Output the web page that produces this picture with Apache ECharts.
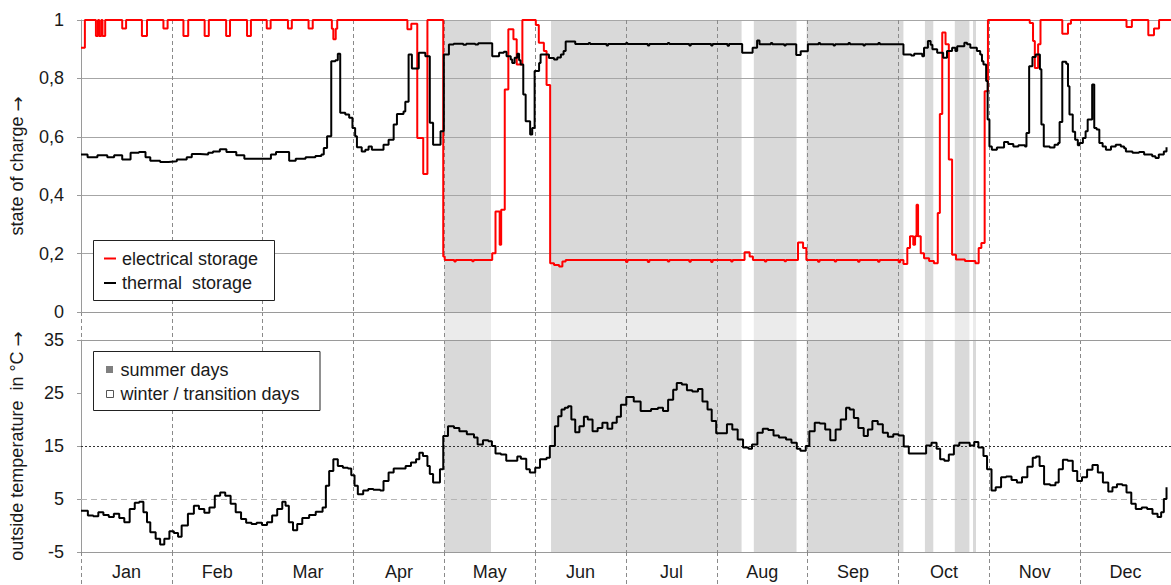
<!DOCTYPE html>
<html><head><meta charset="utf-8">
<script src="https://cdn.jsdelivr.net/npm/echarts@6/dist/echarts.min.js"></script>
<style>html,body{margin:0;padding:0;background:#fff}#c{width:1171px;height:585px}</style>
</head><body><div id="c"></div>
<script>
// ---------- data (x = day of year, 0..365) ----------
const months = ['Jan','Feb','Mar','Apr','May','Jun','Jul','Aug','Sep','Oct','Nov','Dec'];
const socTicks = [0, 0.2, 0.4, 0.6, 0.8, 1];
const tempTicks = [-5, 5, 15, 25, 35];
const summerPeriods = [[121.67,137.3],[157.4,221.2],[225.3,239.6],[243.0,275.4],[282.6,285.4],[292.6,297.5],[298.7,299.7]];

const electrical = [
[0,0.905],[1.3,1.0],[5.0,0.945],[5.7,1.0],[6.1,0.945],[6.8,1.0],[7.2,0.945],[8.1,1.0],
[13.8,0.971],[15.1,1.0],[20.4,0.945],[22.1,1.0],[27.6,0.971],[29.0,1.0],[34.3,0.945],[35.9,1.0],
[41.4,0.945],[42.8,1.0],[48.6,0.945],[49.9,1.0],[55.6,0.945],[56.9,1.0],[62.2,0.971],[63.5,1.0],
[69.3,0.971],[70.6,1.0],[76.2,0.971],[77.6,1.0],[84.0,0.97],[84.5,0.934],[85.3,0.97],[85.8,1.0],
[109.3,0.968],[110.6,0.987],[112.6,0.596],[114.6,0.473],[116.0,1.0],[121.3,0.19],[121.8,0.178],
[125.0,0.173],[125.5,0.178],[131.0,0.174],[131.5,0.178],[137.7,0.201],[138.8,0.344],[140.2,0.23],
[140.7,0.35],[141.9,0.762],[143.1,0.968],[144.8,0.934],[145.9,0.848],[147.8,1.0],[152.3,0.983],
[153.3,0.922],[155.0,0.894],[155.9,0.777],[157.1,0.167],[158.4,0.161],[160.1,0.156],[161.2,0.173],
[162.3,0.178],[182.5,0.171],[183.0,0.178],[189.8,0.171],[190.3,0.178],[196.5,0.173],[197.0,0.178],
[203.7,0.172],[204.2,0.178],[211.0,0.171],[211.5,0.178],[217.7,0.173],[218.2,0.178],[222.2,0.205],
[223.9,0.19],[225.0,0.178],[229.0,0.173],[229.5,0.178],[235.6,0.174],[236.1,0.178],[240.1,0.238],
[241.8,0.219],[242.9,0.178],[246.8,0.172],[247.3,0.178],[252.4,0.173],[252.9,0.178],[260.2,0.172],
[260.7,0.178],[266.9,0.172],[267.4,0.178],[273.8,0.17],[274.3,0.178],[275.4,0.164],[276.7,0.219],
[277.6,0.259],[278.7,0.23],[279.3,0.259],[279.8,0.367],[280.3,0.259],[281.2,0.201],[282.3,0.184],
[284.0,0.175],[285.6,0.167],[286.9,0.339],[287.6,0.678],[288.4,0.957],[289.5,0.917],[290.6,0.522],
[291.7,0.196],[293.0,0.18],[296.0,0.175],[299.5,0.167],[300.6,0.219],[301.5,0.236],[302.6,0.756],
[303.7,1.0],[317.7,0.99],[318.8,0.928],[319.4,0.836],[320.5,0.917],[321.3,1.0],[328.6,0.953],
[330.5,0.987],[331.5,1.0],[350.1,0.976],[351.9,1.0],[357.4,0.948],[359.3,0.971],[361.0,1.0],[365,1.0]
];

const thermal = [
[0,0.539],[2.2,0.530],[5.5,0.537],[8.8,0.530],[11.1,0.537],[13.8,0.522],[16.6,0.545],[19.4,0.548],
[21.6,0.530],[23.2,0.518],[26.5,0.514],[29.3,0.516],[32.1,0.522],[35.4,0.530],[37.1,0.541],[39.8,0.539],
[42.6,0.545],[44.2,0.550],[46.5,0.557],[48.7,0.548],[52.0,0.537],[54.7,0.525],[57.5,0.525],[60.8,0.525],
[63.6,0.539],[65.3,0.548],[68.0,0.548],[69.7,0.518],[71.9,0.525],[75.2,0.530],[78.5,0.534],[80.5,0.539],
[81.3,0.562],[82.4,0.602],[83.8,0.859],[85.2,0.862],[86.0,0.884],[86.8,0.682],[88.5,0.676],[89.8,0.665],
[90.9,0.630],[91.8,0.602],[92.4,0.564],[94.0,0.550],[95.2,0.556],[96.3,0.567],[97.4,0.556],[101.3,0.573],
[103.0,0.590],[104.7,0.642],[105.8,0.678],[108.0,0.687],[108.6,0.72],[109.7,0.882],[110.8,0.834],
[113.1,0.888],[115.3,0.876],[116.8,0.648],[117.9,0.573],[120.4,0.619],[121.5,0.882],[123.2,0.916],
[124.8,0.919],[128.0,0.915],[129.0,0.919],[132.0,0.916],[133.0,0.92],[137.7,0.876],[140.0,0.888],
[141.6,0.891],[142.5,0.876],[143.9,0.865],[144.4,0.853],[145.2,0.871],[146.1,0.884],[146.7,0.862],
[147.2,0.848],[148.1,0.745],[148.9,0.653],[150.4,0.608],[151.1,0.63],[151.9,0.825],[153.4,0.853],
[153.9,0.882],[156.7,0.87],[158.4,0.865],[159.5,0.872],[160.7,0.882],[161.6,0.894],[162.3,0.926],
[165.5,0.918],[170.0,0.921],[170.5,0.918],[176.0,0.913],[176.5,0.918],[182.5,0.921],[183.0,0.918],
[189.8,0.913],[190.3,0.918],[196.5,0.921],[197.0,0.918],[203.7,0.913],[204.2,0.918],[211.0,0.913],
[211.5,0.918],[216.5,0.912],[217.0,0.918],[221.4,0.888],[224.9,0.905],[226.4,0.93],[227.2,0.917],
[231.0,0.921],[231.5,0.917],[235.5,0.913],[236.0,0.917],[239.5,0.88],[241.0,0.893],[243.4,0.917],
[247.0,0.921],[247.5,0.917],[252.0,0.913],[252.5,0.917],[257.0,0.921],[257.5,0.917],[262.0,0.913],
[262.5,0.917],[267.0,0.921],[267.5,0.917],[275.4,0.882],[278.0,0.878],[279.0,0.884],[281.7,0.876],
[282.3,0.905],[283.6,0.928],[284.5,0.915],[285.1,0.9],[286.7,0.888],[288.7,0.871],[290.0,0.894],
[291.7,0.905],[292.8,0.894],[293.4,0.91],[295.8,0.922],[296.7,0.917],[297.8,0.905],[300.0,0.894],
[301.1,0.882],[301.7,0.859],[302.2,0.848],[303.1,0.791],[303.6,0.659],[304.2,0.567],[305.0,0.556],
[306.7,0.563],[309.1,0.582],[310.5,0.575],[312.2,0.567],[313.9,0.571],[316.1,0.567],[316.6,0.613],
[317.5,0.842],[318.6,0.873],[319.7,0.882],[321.1,0.831],[321.6,0.642],[322.4,0.567],[324.4,0.563],
[326.0,0.573],[327.2,0.579],[327.7,0.651],[328.6,0.857],[329.9,0.85],[330.5,0.773],[331.0,0.676],
[332.1,0.617],[332.9,0.59],[333.8,0.571],[334.4,0.579],[335.5,0.596],[336.4,0.619],[337.1,0.659],
[338.2,0.659],[338.6,0.779],[339.3,0.63],[340.1,0.625],[341.0,0.579],[342.1,0.567],[343.2,0.556],
[344.9,0.567],[346.5,0.573],[348.2,0.567],[349.3,0.561],[349.9,0.55],[352.1,0.545],[354.3,0.548],
[356.0,0.539],[358.7,0.533],[359.8,0.527],[360.9,0.539],[362.6,0.55],[363.5,0.564]
];

const temperature = [
[0,2.8],[2.3,1.9],[4.1,1.75],[5.8,2.5],[7.5,2.0],[9.3,1.6],[11.0,2.2],[12.8,1.4],[14.5,0.6],[16.3,3.1],
[18.0,4.3],[19.5,4.5],[20.9,2.5],[22.1,0.6],[23.2,-1.25],[25.0,-2.5],[26.5,-3.6],[27.9,-2.5],[29.6,-1.1],
[31.1,-1.4],[32.5,-2.1],[33.7,0.0],[35.8,2.2],[37.8,3.75],[39.5,3.1],[41.3,2.4],[43.0,3.4],[44.8,5.6],
[46.6,6.25],[48.3,5.6],[50.1,4.1],[51.8,2.5],[53.6,1.25],[55.3,0.5],[57.1,0.3],[58.8,0.5],[60.6,0.1],
[62.3,0.6],[64.0,1.9],[65.7,3.1],[67.4,4.5],[68.5,3.75],[69.6,0.6],[71.0,-0.9],[72.4,0.3],[74.1,1.4],
[76.4,2.0],[78.6,2.6],[80.9,3.4],[82.0,7.5],[83.1,10.3],[84.5,12.5],[86.0,11.25],[87.7,10.9],[89.4,10.75],
[90.5,9.5],[91.6,7.5],[92.7,5.9],[94.5,6.6],[96.2,6.9],[97.9,6.75],[100.2,6.6],[101.3,8.4],[103.0,10.0],
[104.7,10.75],[107.0,10.75],[108.7,11.25],[110.5,11.9],[112.2,12.5],[113.3,13.75],[114.5,13.1],
[116.0,11.25],[116.8,9.7],[117.9,8.1],[119.4,8.1],[120.2,10.6],[121.3,16.9],[122.9,18.75],[124.9,18.4],
[126.7,17.8],[129.2,17.2],[131.6,16.6],[132.8,15.3],[134.6,16.1],[136.4,15.9],[137.6,15.0],[138.8,13.6],
[140.6,13.4],[142.4,12.2],[144.2,12.2],[146.1,13.0],[147.3,12.6],[149.1,10.6],[150.3,10.0],[152.1,10.9],
[153.7,12.5],[155.9,12.8],[157.0,15.0],[158.7,18.75],[159.8,20.6],[160.9,21.9],[162.0,22.2],[163.1,22.5],
[164.2,20.0],[165.5,17.6],[166.9,18.75],[168.4,20.5],[169.7,20.0],[171.3,17.8],[173.0,18.4],[174.6,19.4],
[176.3,18.25],[177.9,19.4],[179.4,20.5],[180.8,22.8],[182.6,24.25],[185.1,23.4],[187.4,21.6],[189.2,21.6],
[190.9,22.0],[193.2,22.2],[194.9,21.6],[196.6,23.75],[198.3,25.6],[199.5,26.9],[201.2,26.6],[202.9,25.5],
[204.7,25.3],[206.6,25.75],[208.1,23.4],[209.8,21.9],[211.2,19.7],[212.7,17.4],[214.5,17.4],[216.3,19.1],
[218.1,18.1],[219.9,16.25],[221.7,14.7],[223.5,14.5],[224.7,15.3],[226.5,17.5],[228.3,18.25],[230.1,18.0],
[231.9,17.0],[233.7,16.6],[236.1,16.25],[237.9,15.6],[239.7,14.5],[240.9,14.1],[242.7,15.0],[243.9,17.8],
[245.7,19.4],[247.4,19.25],[249.2,18.1],[250.9,16.1],[252.7,18.1],[254.4,20.0],[256.2,22.2],[257.4,21.9],
[258.8,20.3],[260.3,18.4],[262.1,16.9],[263.5,18.1],[265.0,19.7],[266.8,19.1],[268.5,17.5],[270.2,16.75],
[272.0,17.2],[273.75,17.0],[275.5,14.9],[277.2,13.6],[279.6,13.6],[281.3,13.6],[283.0,15.1],[284.8,15.6],
[286.5,14.5],[287.7,12.5],[289.1,12.2],[290.6,13.4],[292.3,15.1],[294.1,15.6],[296.4,15.6],[297.6,15.1],
[299.1,15.75],[300.5,14.7],[302.2,13.1],[303.4,10.6],[304.9,6.6],[306.3,7.2],[308.1,9.1],[309.8,9.25],
[311.6,8.6],[313.4,8.1],[315.1,9.1],[316.9,11.1],[318.7,12.8],[319.8,13.0],[321.0,11.25],[322.5,7.8],
[324.5,7.6],[326.3,8.1],[327.4,10.6],[328.8,12.4],[330.4,12.2],[332.1,10.3],[333.6,8.4],[335.2,9.1],
[336.9,10.5],[338.7,11.4],[340.5,10.0],[342.2,8.1],[344.0,6.4],[345.4,7.2],[346.9,7.8],[348.7,7.6],
[350.1,6.25],[351.7,4.1],[353.2,3.1],[355.2,3.4],[357.0,3.1],[358.8,2.2],[360.5,1.6],[361.7,2.5],
[362.6,5.0],[363.5,7.2]
];

// ---------- chart ----------
const FONT = "'Liberation Sans', Arial, sans-serif";
const TXT = '#1a1a1a';
const AXIS_GRAY = '#9a9a9a';
const DASH_GRAY = '#8a8a8a';
const chart = echarts.init(document.getElementById('c'), null, {renderer: 'svg'});

const summerAreas = (color) => ({
  silent: true, itemStyle: {color: color},
  data: summerPeriods.map(p => [{xAxis: p[0]}, {xAxis: p[1]}])
});
const monthAxis = (gi, opts) => Object.assign({
  type: 'category', gridIndex: gi, data: months, boundaryGap: true, z: 2, position: 'bottom',
  axisLine: {show: false}, axisTick: {show: false}, axisLabel: {show: false},
  splitLine: {show: true, interval: 0, lineStyle: {type: [4, 3], color: DASH_GRAY, width: 1}}
}, opts);
const valX = (gi) => ({type: 'value', gridIndex: gi, min: 0, max: 365, show: false, position: 'top'});
const nameStyle = {
  fontSize: 18, color: TXT, fontFamily: FONT,
  rich: {a: {fontSize: 18, color: TXT, fontFamily: "'DejaVu Sans', sans-serif"}}
};

chart.setOption({
  animation: false,
  textStyle: {fontFamily: FONT},
  grid: [
    {left: 81, right: -4, top: 20, height: 292},
    {left: 81, right: -4, top: 312, height: 28},
    {left: 81, right: -4, top: 340, height: 212}
  ],
  xAxis: [
    valX(0),
    monthAxis(0, {axisLine: {show: true, lineStyle: {color: AXIS_GRAY, width: 1}}}),
    valX(1),
    monthAxis(1, {}),
    valX(2),
    monthAxis(2, {
      axisLine: {show: true, lineStyle: {color: AXIS_GRAY, width: 1}},
      axisTick: {show: true, interval: 0, length: 33, lineStyle: {type: [4, 3], color: DASH_GRAY}},
      axisLabel: {show: true, interval: 0, fontSize: 18, color: TXT, margin: 11, fontFamily: FONT}
    })
  ],
  yAxis: [
    {type: 'value', gridIndex: 0, min: socTicks[0], max: socTicks[socTicks.length - 1], interval: 0.2, z: 2,
     axisLine: {show: true, lineStyle: {color: AXIS_GRAY}},
     axisTick: {show: true, length: 4, lineStyle: {color: AXIS_GRAY}},
     axisLabel: {fontSize: 18, color: TXT, margin: 17, fontFamily: FONT,
       formatter: v => String(Math.round(v * 10) / 10).replace('.', ',')},
     splitLine: {show: true, lineStyle: {color: '#a6a6a6', width: 1}},
     name: 'state of charge {a|→}', nameLocation: 'middle', nameGap: 55, nameRotate: 90,
     nameTextStyle: nameStyle},
    {type: 'value', gridIndex: 1, min: 0, max: 1, show: false},
    {type: 'value', gridIndex: 2, min: tempTicks[0], max: tempTicks[tempTicks.length - 1], interval: 10, z: 2,
     axisLine: {show: true, lineStyle: {color: AXIS_GRAY}},
     axisTick: {show: true, length: 4, lineStyle: {color: AXIS_GRAY}},
     axisLabel: {fontSize: 18, color: TXT, margin: 17, fontFamily: FONT},
     splitLine: {show: false},
     name: 'outside temperature  in °C {a|→}', nameLocation: 'middle', nameGap: 55, nameRotate: 90,
     nameTextStyle: nameStyle}
  ],
  series: [
    {name: 'electrical storage', type: 'line', xAxisIndex: 0, yAxisIndex: 0, data: electrical,
     step: 'end', symbol: 'none', z: 4, lineStyle: {color: '#ff0000', width: 2},
     markArea: summerAreas('#d9d9d9')},
    {name: 'thermal storage', type: 'line', xAxisIndex: 0, yAxisIndex: 0, data: thermal,
     step: 'end', symbol: 'none', z: 5, lineStyle: {color: '#000000', width: 2}},
    {name: 'gap', type: 'line', xAxisIndex: 2, yAxisIndex: 1, data: [[0, 5], [1, 5]],
     symbol: 'none', lineStyle: {opacity: 0}, markArea: summerAreas('#ebebeb')},
    {name: 'outside temperature', type: 'line', xAxisIndex: 4, yAxisIndex: 2, data: temperature,
     step: 'end', symbol: 'none', z: 5, lineStyle: {color: '#000000', width: 2},
     markArea: summerAreas('#d9d9d9'),
     markLine: {silent: true, symbol: ['none', 'none'], label: {show: false}, z: 3,
       data: [
         {yAxis: 35, lineStyle: {type: 'solid', color: AXIS_GRAY, width: 1}},
         {yAxis: 15, lineStyle: {type: [2, 2], color: '#333333', width: 1}},
         {yAxis: 5, lineStyle: {type: [6, 4], color: '#b5b5b5', width: 1}}
       ]}}
  ],
  graphic: [
    {type: 'rect', z: 100, shape: {x: 93.5, y: 240.5, width: 181, height: 60}, style: {fill: '#fff', stroke: '#222', lineWidth: 1}},
    {type: 'line', z: 101, shape: {x1: 104, y1: 258.5, x2: 116, y2: 258.5}, style: {stroke: '#ff0000', lineWidth: 2}},
    {type: 'text', z: 101, x: 122, y: 258.5, style: {text: 'electrical storage', fontSize: 18, fontFamily: FONT, fill: TXT, verticalAlign: 'middle'}},
    {type: 'line', z: 101, shape: {x1: 104, y1: 283, x2: 116, y2: 283}, style: {stroke: '#000', lineWidth: 2}},
    {type: 'text', z: 101, x: 122, y: 283, style: {text: 'thermal  storage', fontSize: 18, fontFamily: FONT, fill: TXT, verticalAlign: 'middle'}},

    {type: 'rect', z: 100, shape: {x: 93.5, y: 351.5, width: 226.5, height: 59}, style: {fill: '#fff', stroke: '#222', lineWidth: 1}},
    {type: 'rect', z: 101, shape: {x: 106, y: 366, width: 7, height: 7}, style: {fill: '#7f7f7f'}},
    {type: 'text', z: 101, x: 120.5, y: 369.5, style: {text: 'summer days', fontSize: 18, fontFamily: FONT, fill: TXT, verticalAlign: 'middle'}},
    {type: 'rect', z: 101, shape: {x: 106.5, y: 390.5, width: 7, height: 7}, style: {fill: '#fff', stroke: '#555', lineWidth: 1}},
    {type: 'text', z: 101, x: 120.5, y: 393.5, style: {text: 'winter / transition days', fontSize: 18, fontFamily: FONT, fill: TXT, verticalAlign: 'middle'}}
  ]
});
</script>
</body></html>
